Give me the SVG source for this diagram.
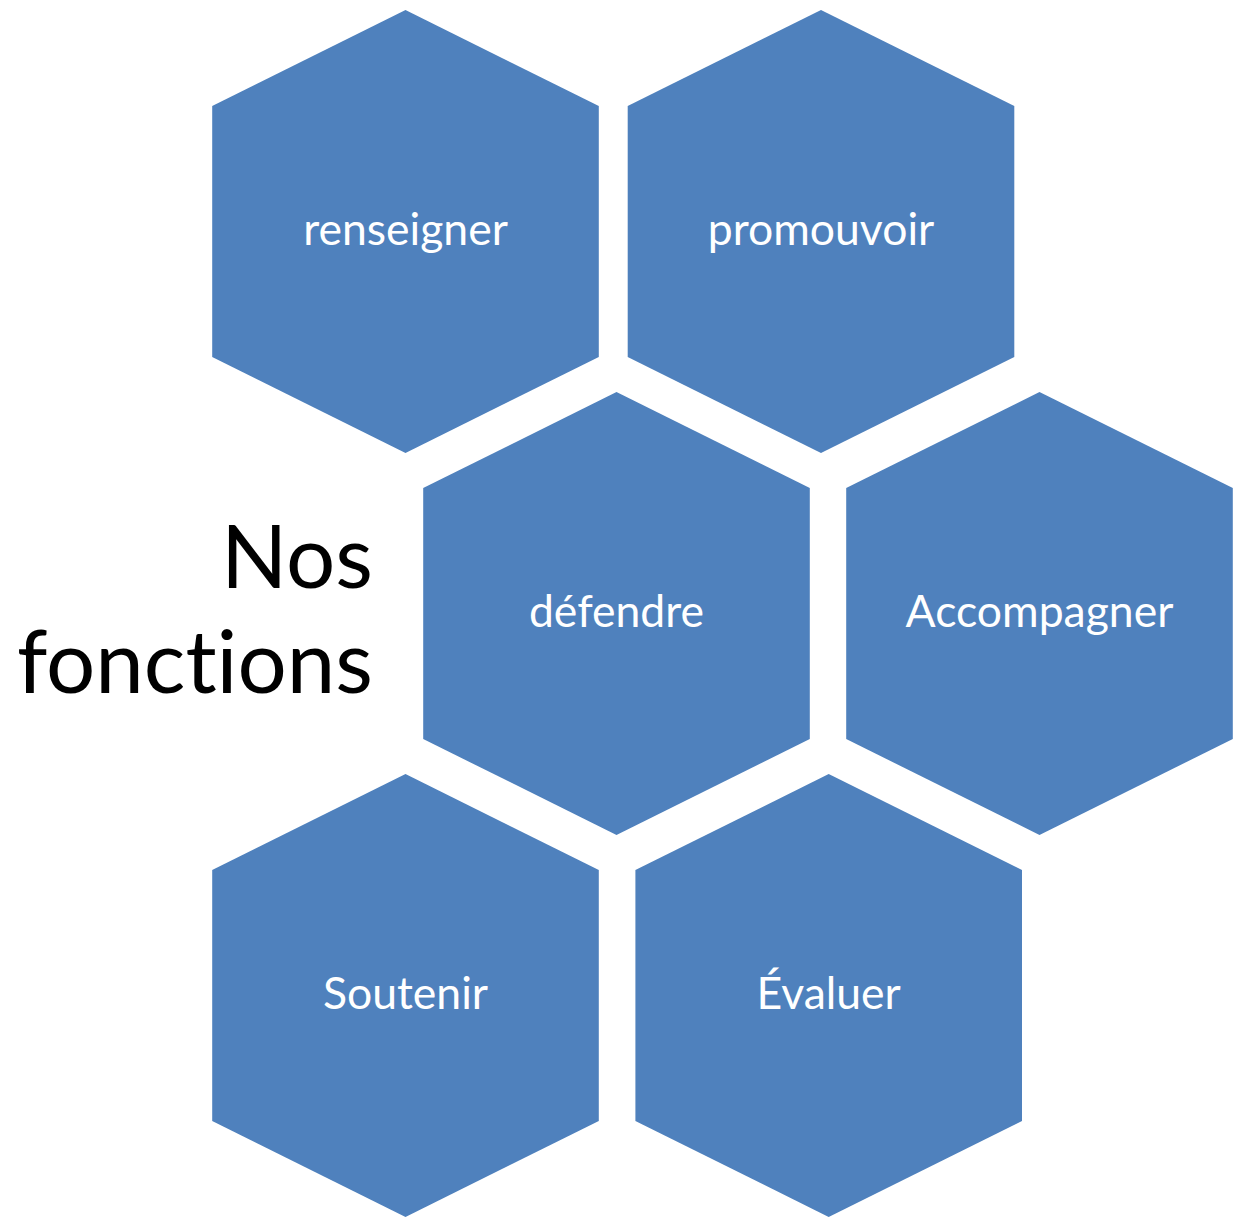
<svg xmlns="http://www.w3.org/2000/svg" width="1243" height="1218" viewBox="0 0 1243 1218">
  <style>
    .hex { fill: #4F81BD; }
    .label { font-family: Lato, "Open Sans", sans-serif; font-size: 44.5px; fill: #FFFFFF; text-anchor: middle; font-variant-ligatures: none; }
    .title { font-family: Lato, "Open Sans", sans-serif; font-size: 87px; fill: #000000; text-anchor: end; font-variant-ligatures: none; }
  </style>
  <defs>
    <!-- hexagon centred on the origin, pointy top -->
    <polygon id="hexShape" points="0,-221.5 193.3,-125.5 193.3,125.5 0,221.5 -193.3,125.5 -193.3,-125.5"/>
  </defs>

  <g id="title">
    <text class="title" x="373" y="588">Nos</text>
    <text class="title" x="373" y="693">fonctions</text>
  </g>

  <g id="node-renseigner">
    <use href="#hexShape" class="hex" x="405.5" y="231.5"/>
    <text class="label" x="405.5" y="245">renseigner</text>
  </g>
  <g id="node-promouvoir">
    <use href="#hexShape" class="hex" x="821" y="231.5"/>
    <text class="label" x="821" y="245">promouvoir</text>
  </g>
  <g id="node-defendre">
    <use href="#hexShape" class="hex" x="616.5" y="613.5"/>
    <text class="label" x="616.5" y="627">défendre</text>
  </g>
  <g id="node-accompagner">
    <use href="#hexShape" class="hex" x="1039.5" y="613.5"/>
    <text class="label" x="1039.5" y="627">Accompagner</text>
  </g>
  <g id="node-soutenir">
    <use href="#hexShape" class="hex" x="405.5" y="995.5"/>
    <text class="label" x="405.5" y="1009">Soutenir</text>
  </g>
  <g id="node-evaluer">
    <use href="#hexShape" class="hex" x="828.7" y="995.5"/>
    <text class="label" x="828.7" y="1009">Évaluer</text>
  </g>

  <g id="connectors"></g>
</svg>
